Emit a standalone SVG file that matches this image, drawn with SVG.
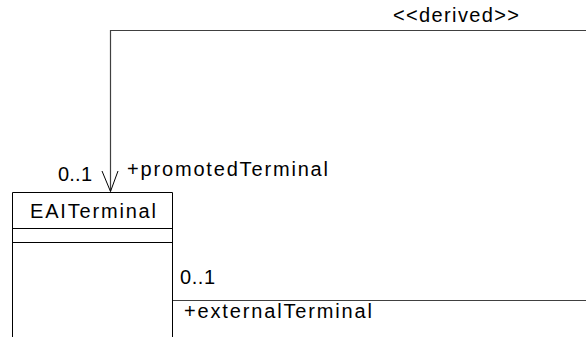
<svg xmlns="http://www.w3.org/2000/svg" width="586" height="337" viewBox="0 0 586 337">
<style>
text{font-family:"Liberation Sans",Arial,sans-serif;font-size:20px;fill:#000}
.ln{fill:none;stroke:#000;stroke-width:1}
.cn{fill:none;stroke:#404040;stroke-width:1.2}
</style>
<rect width="586" height="337" fill="#fff"/>
<g id="connectors">
<polyline class="cn" points="586,30.5 110.5,30.5 110.5,191.5"/>
<polyline class="ln" points="102,171 110.5,191.5 118,171"/>
<line class="cn" x1="172.5" y1="300.5" x2="586" y2="300.5"/>
<text x="393" y="22" textLength="126" lengthAdjust="spacing">&lt;&lt;derived&gt;&gt;</text>
<text x="58" y="181" textLength="34" lengthAdjust="spacing">0..1</text>
<text x="127" y="176" textLength="201" lengthAdjust="spacing">+promotedTerminal</text>
<text x="180" y="284" textLength="35" lengthAdjust="spacing">0..1</text>
<text x="184" y="318" textLength="188" lengthAdjust="spacing">+externalTerminal</text>
</g>
<g id="EAITerminal">
<polyline class="ln" points="12.5,340 12.5,192.5 172.5,192.5 172.5,340"/>
<line class="ln" x1="12.5" y1="228.5" x2="172.5" y2="228.5"/>
<line class="ln" x1="12.5" y1="242.5" x2="172.5" y2="242.5"/>
<text x="30" y="218" textLength="126" lengthAdjust="spacing">EAITerminal</text>
</g>
</svg>
